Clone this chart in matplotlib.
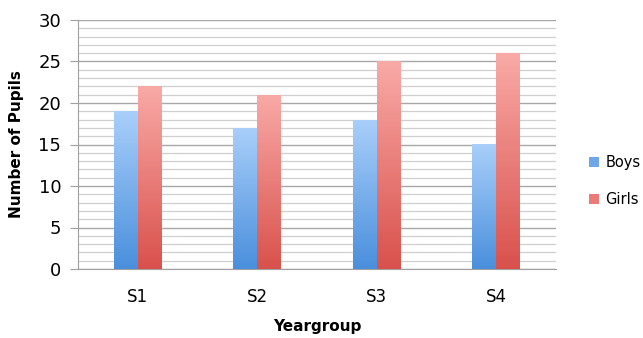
import numpy as np
import matplotlib.pyplot as plt
from matplotlib.colors import LinearSegmentedColormap
from matplotlib.patches import Patch

categories = ["S1", "S2", "S3", "S4"]
boys = [19, 17, 18, 15]
girls = [22, 21, 25, 26]

fig = plt.figure(figsize=(6.43, 3.38), dpi=100)
ax = fig.add_axes([78 / 643, 1 - 269 / 338, (556 - 78) / 643, (269 - 20) / 338])

x = np.arange(len(categories))
w = 0.2

boy_cmap = LinearSegmentedColormap.from_list("boy", ["#4a8fdc", "#a9cffa"])
girl_cmap = LinearSegmentedColormap.from_list("girl", ["#d9514c", "#f9aaa7"])

grad = np.linspace(0, 1, 256).reshape(-1, 1)

def gradient_bars(bars, cmap):
    for b in bars:
        x0, y0 = b.get_x(), b.get_y()
        bw, bh = b.get_width(), b.get_height()
        im = ax.imshow(grad, cmap=cmap, origin="lower", aspect="auto",
                       extent=[x0, x0 + bw, y0, y0 + bh], zorder=3)
        im.set_clip_path(b)
        b.set_facecolor("none")

b1 = ax.bar(x - w / 2, boys, w, zorder=3, linewidth=0)
b2 = ax.bar(x + w / 2, girls, w, zorder=3, linewidth=0)
gradient_bars(b1, boy_cmap)
gradient_bars(b2, girl_cmap)

ax.set_xlim(-0.5, len(categories) - 0.5)
ax.set_ylim(0, 30)
ax.set_yticks(range(0, 31, 5))
ax.set_yticks(range(0, 31, 1), minor=True)
ax.set_xticks(x)
ax.set_xticklabels(categories)

ax.grid(axis="y", which="major", color="#a8a8a8", linewidth=1.0, zorder=0)
ax.grid(axis="y", which="minor", color="#cfcfcf", linewidth=0.9, zorder=0)
ax.set_axisbelow(True)

for s in ["top", "right"]:
    ax.spines[s].set_visible(False)
ax.spines["left"].set_color("#a0a0a0")
ax.spines["bottom"].set_color("#a0a0a0")
ax.tick_params(axis="y", which="major", length=6, color="#a0a0a0", labelsize=13, pad=6)
ax.tick_params(axis="y", which="minor", length=0)
ax.tick_params(axis="x", length=0, labelsize=12, pad=14)

ax.set_ylabel("Number of Pupils", fontsize=11, fontweight="bold", labelpad=10)
ax.set_xlabel("Yeargroup", fontsize=11, fontweight="bold", labelpad=9)

handles = [Patch(facecolor="#6ea6e8", label="Boys"), Patch(facecolor="#ec7b77", label="Girls")]
fig.legend(handles=handles, loc="center left", bbox_to_anchor=(576 / 643, 1 - 181 / 338),
           frameon=False, fontsize=10.5, handlelength=0.7, handleheight=0.7,
           handletextpad=0.4, labelspacing=1.5)

fig.savefig("out.png", dpi=100)
